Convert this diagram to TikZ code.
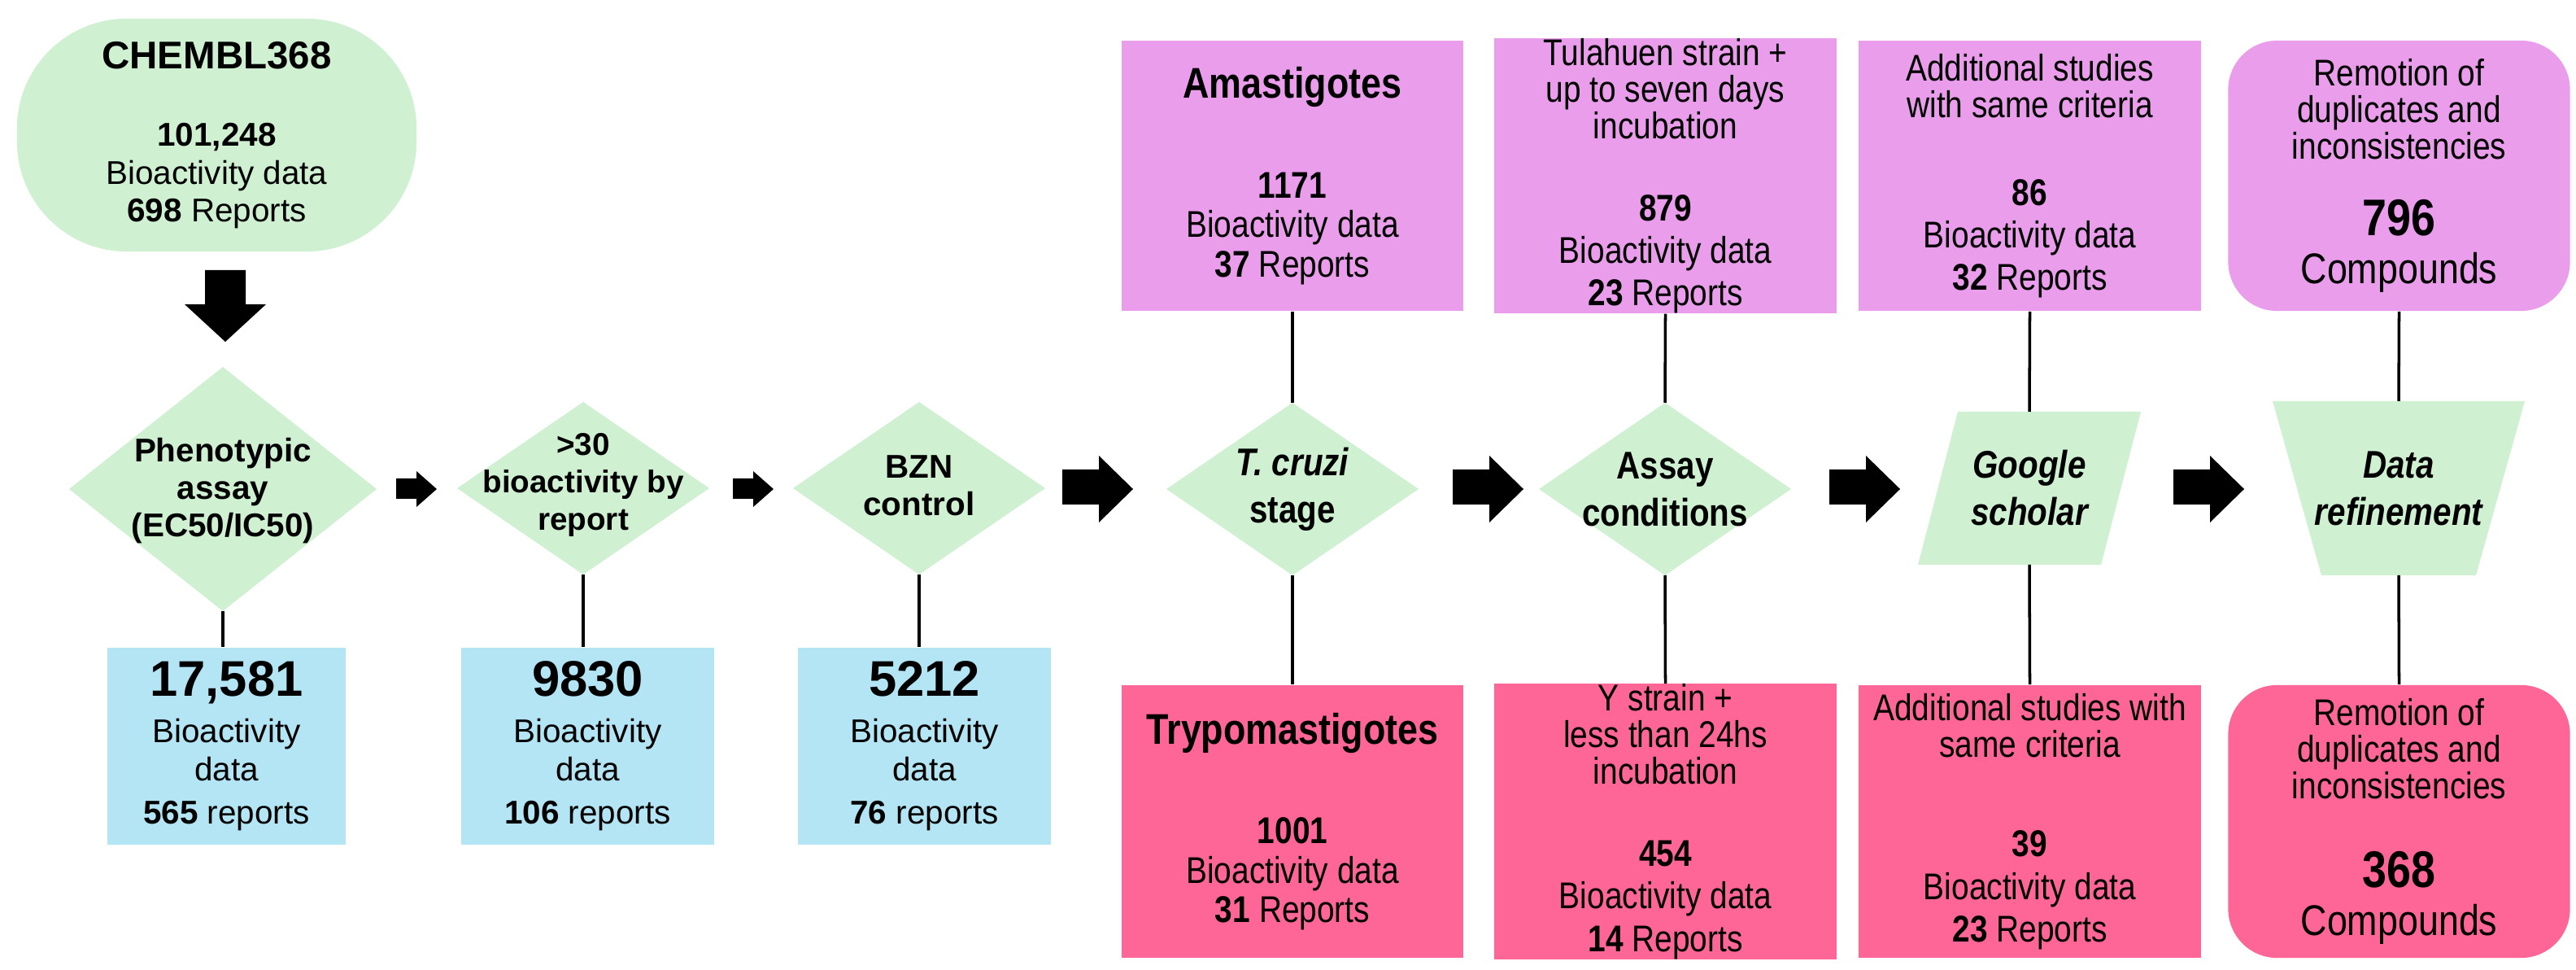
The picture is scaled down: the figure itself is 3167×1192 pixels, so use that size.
\documentclass[tikz,border=0pt]{standalone}
\usepackage{fontspec}
\setmainfont{Liberation Sans}
\newfontfamily\narrowf{Liberation Sans}[FakeStretch=0.85]
\usetikzlibrary{shapes.geometric}
\definecolor{gr}{HTML}{CFF1D2}
\definecolor{bl}{HTML}{B3E5F5}
\definecolor{pk}{HTML}{E99DEA}
\definecolor{rd}{HTML}{FE6697}
\newcommand{\Bsz}{\fontsize{11.5}{13.2}\selectfont}
\newcommand{\Nsz}{\fontsize{13}{12.8}\selectfont\narrowf}
\newcommand{\dpath}[5]{% name, cx, cy, hw, hh
 \fill[gr] (#2-#4,#3) -- (#2,#3-#5) -- (#2+#4,#3) -- (#2,#3+#5) -- cycle;
 \coordinate (#1t) at (#2,#3-#5); \coordinate (#1b) at (#2,#3+#5);}
\begin{document}
\begin{tikzpicture}[x=0.01cm,y=-0.01cm,
  box/.style={inner sep=0pt,align=center,minimum height=#1},
  blue/.style={box=2.42cm,fill=bl,font=\Bsz,minimum width=3.0cm},
  dtxt/.style={align=center,inner sep=0pt,font=\bfseries\fontsize{11.5}{13.2}\selectfont},
  rtxt/.style={align=center,inner sep=0pt,font=\bfseries\fontsize{13.5}{16.5}\selectfont\narrowf},
  ptop/.style={box=3.32cm,fill=pk,minimum width=4.2cm,font=\Nsz},
  pbot/.style={box=3.35cm,fill=rd,minimum width=4.2cm,font=\Nsz},
  ln/.style={line width=1pt},
  bigarr/.style={fill=black}]
\fill[white] (0,0) rectangle (3167,1192);
% top-left
\node[box=2.86cm,fill=gr,minimum width=4.91cm,rounded corners=1.35cm,font=\Bsz] (chem) at (266.5,166)
  {{\bfseries\fontsize{13.5}{16}\selectfont CHEMBL368}\\[14pt]\textbf{101,248}\\Bioactivity data\\\textbf{698} Reports};
\fill[bigarr] (252,332) -- (302,332) -- (302,374) -- (327,374) -- (277,420) -- (227,374) -- (252,374) -- cycle;
% diamonds left
\dpath{d1}{274}{601}{189}{150}
\dpath{d2}{717}{600}{155}{106}
\dpath{d3}{1130}{600}{155}{106}
\node[dtxt] (d1n) at (274,603) {Phenotypic\\assay\\(EC50/IC50)};
\node[dtxt,font=\bfseries\fontsize{11}{13}\selectfont] (d2n) at (717,596) {>30\\bioactivity by\\report};
\node[dtxt] (d3n) at (1130,597) {BZN\\control};
\foreach \x in {487,901}{
 \fill[bigarr] (\x,588) -- (\x+25,588) -- (\x+25,579) -- (\x+50,601) -- (\x+25,623) -- (\x+25,613) -- (\x,613) -- cycle;}
% blue
\node[blue,minimum width=2.93cm] (b1) at (278.5,917) {{\bfseries\fontsize{17.5}{19}\selectfont 17,581}\\[3pt]Bioactivity\\data\\[2pt]\textbf{565} reports};
\node[blue,minimum width=3.11cm] (b2) at (722.5,917) {{\bfseries\fontsize{17.5}{19}\selectfont 9830}\\[3pt]Bioactivity\\data\\[2pt]\textbf{106} reports};
\node[blue,minimum width=3.11cm] (b3) at (1136.5,917) {{\bfseries\fontsize{17.5}{19}\selectfont 5212}\\[3pt]Bioactivity\\data\\[2pt]\textbf{76} reports};
\draw[ln] (d1b) -- (d1b |- b1.north);
\draw[ln] (d2b) -- (d2b |- b2.north);
\draw[ln] (d3b) -- (d3b |- b3.north);
% big arrows right
\foreach \x in {1306,1786,2249,2672}{
 \fill[bigarr] (\x,577) -- (\x+45,577) -- (\x+45,560) -- (\x+87,601) -- (\x+45,642) -- (\x+45,620) -- (\x,620) -- cycle;}
% right diamonds
\dpath{tc}{1589}{601}{155}{106}
\dpath{ac}{2047}{601}{155}{106}
\node[rtxt] (tcn) at (1589,601) {\itshape T. cruzi\\stage};
\node[rtxt] (acn) at (2047,601) {Assay\\conditions};
\fill[gr] (2407,506) -- (2632,506) -- (2583,694) -- (2358,694) -- cycle;
\node[rtxt,font=\bfseries\itshape\fontsize{13.5}{16.5}\selectfont\narrowf] (gs) at (2495,600) {Google\\scholar};
\coordinate (gst) at (2495,506); \coordinate (gsb) at (2495,694);
\fill[gr] (2794,493) -- (3104,493) -- (3044,707) -- (2854,707) -- cycle;
\node[rtxt,font=\bfseries\itshape\fontsize{13.5}{16.5}\selectfont\narrowf] (dr) at (2949,600) {Data\\refinement};
\coordinate (drt) at (2949,493); \coordinate (drb) at (2949,707);
% pink tops
\node[ptop] (t1) at (1589,216) {{\bfseries\fontsize{15}{17}\selectfont Amastigotes}\\[22pt]\textbf{1171}\\[1pt]Bioactivity data\\[1pt]\textbf{37} Reports};
\node[ptop] (t2) at (2047.5,216) {Tulahuen strain +\\up to seven days\\incubation\\[16pt]\textbf{879}\\[2pt]Bioactivity data\\[2pt]\textbf{23} Reports};
\node[ptop] (t3) at (2495.5,216) {Additional studies\\with same criteria\\[18pt]\textbf{86}\\[2pt]Bioactivity data\\[2pt]\textbf{32} Reports};
\node[ptop,rounded corners=0.6cm] (t4) at (2949.5,216) {Remotion of\\duplicates and\\inconsistencies\\[14pt]{\bfseries\fontsize{18}{19}\selectfont 796}\\[4pt]{\fontsize{15}{16}\selectfont Compounds}};
% pink bottoms
\node[pbot] (u1) at (1589,1009.5) {{\bfseries\fontsize{15}{17}\selectfont Trypomastigotes}\\[22pt]\textbf{1001}\\[1pt]Bioactivity data\\[1pt]\textbf{31} Reports};
\node[pbot] (u2) at (2047.5,1009.5) {Y strain +\\less than 24hs\\incubation\\[16pt]\textbf{454}\\[2pt]Bioactivity data\\[2pt]\textbf{14} Reports};
\node[pbot] (u3) at (2495.5,1009.5) {Additional studies with\\same criteria\\[22pt]\textbf{39}\\[2pt]Bioactivity data\\[2pt]\textbf{23} Reports};
\node[pbot,rounded corners=0.6cm] (u4) at (2949.5,1009.5) {Remotion of\\duplicates and\\inconsistencies\\[18pt]{\bfseries\fontsize{18}{19}\selectfont 368}\\[4pt]{\fontsize{15}{16}\selectfont Compounds}};
% connectors
\draw[ln] (t1.south) -- (tct); \draw[ln] (tcb) -- (u1.north);
\draw[ln] (t2.south) -- (act); \draw[ln] (acb) -- (u2.north);
\draw[ln] (t3.south) -- (gst); \draw[ln] (gsb) -- (u3.north);
\draw[ln] (t4.south) -- (drt); \draw[ln] (drb) -- (u4.north);
\end{tikzpicture}
\end{document}
